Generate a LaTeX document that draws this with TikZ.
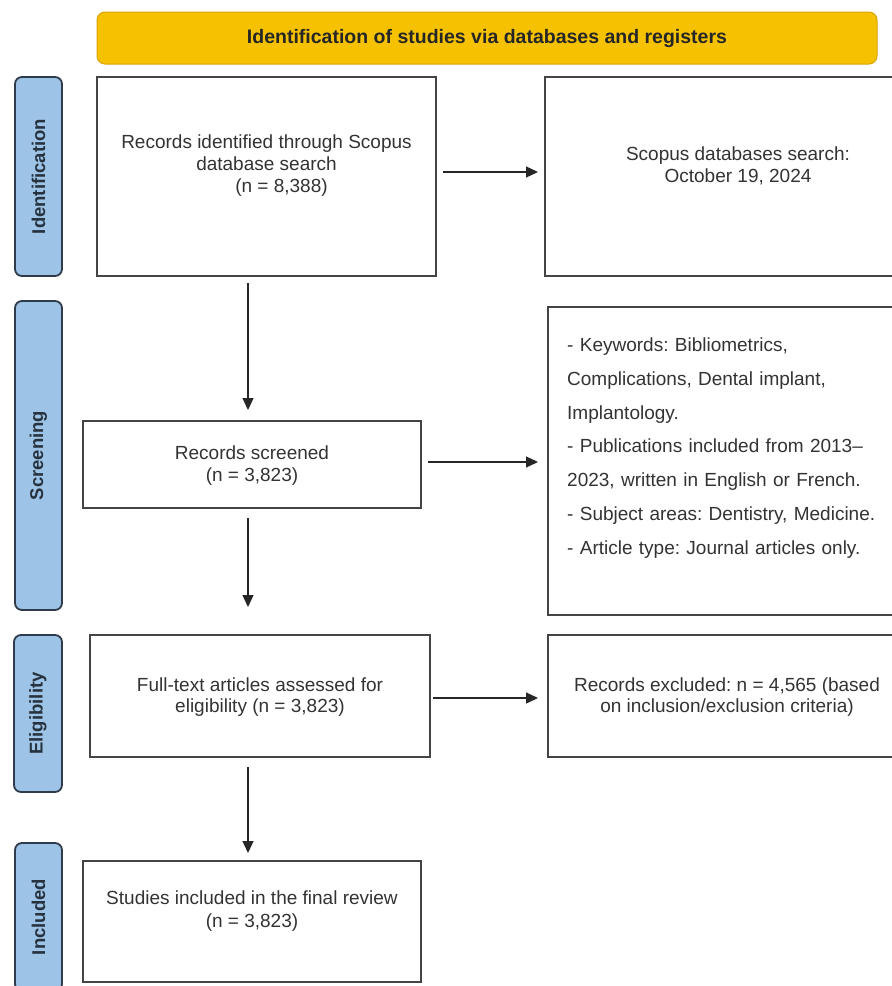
\documentclass[tikz,border=0pt]{standalone}
\usepackage{fontspec}
\setmainfont{Liberation Sans}
\usetikzlibrary{arrows.meta}
\definecolor{hdr}{HTML}{F6C200}
\definecolor{hdrb}{HTML}{D9A400}
\definecolor{lbl}{HTML}{9DC3E6}
\definecolor{lblb}{HTML}{2E3B4A}
\definecolor{txt}{HTML}{333333}
\definecolor{bord}{HTML}{444444}
\frenchspacing
\begin{document}
\frenchspacing
\begin{tikzpicture}[x=1pt,y=-1pt,
 box/.style={draw=bord, line width=2pt, fill=white, inner sep=0pt, outer sep=0pt},
 lab/.style={draw=lblb, line width=1.8pt, fill=lbl, rounded corners=7pt, inner sep=0pt, outer sep=0pt},
 ltxt/.style={rotate=90, font=\fontsize{18.5}{20}\selectfont\bfseries, text=lblb!85!black, inner sep=0pt},
 btxt/.style={font=\fontsize{19}{22}\selectfont, text=txt, align=center, inner sep=0pt},
 arr/.style={draw=black!85, line width=1.3pt, -{Triangle[length=12pt,width=11pt]}}
]
\clip (0,0) rectangle (892,986);
\useasboundingbox (0,0) rectangle (892,986);
\fill[white] (0,0) rectangle (892,986);

% header
\node[draw=hdrb, fill=hdr, rounded corners=8pt, line width=1pt, minimum width=780pt, minimum height=52pt, inner sep=0pt,
      font=\fontsize{19.5}{21}\selectfont\bfseries, text=black!85] (hdr) at (487,38) {Identification of studies via databases and registers};

% side labels
\node[lab, minimum width=47pt, minimum height=199pt] (l1) at (38.5,176.5) {};
\node[ltxt] (l1t) at (l1.center) {Identification};
\node[lab, minimum width=47pt, minimum height=309pt] (l2) at (38.5,455.5) {};
\node[ltxt] (l2t) at (l2.center) {Screening};
\node[lab, minimum width=48pt, minimum height=157pt] (l3) at (38,713.5) {};
\node[ltxt] (l3t) at (l3.center) {Eligibility};
\node[lab, minimum width=47pt, minimum height=148pt] (l4) at (38.5,917) {};
\node[ltxt] (l4t) at (l4.center) {Included};

% boxes
\node[box, minimum width=339pt, minimum height=199pt] (b1) at (266.5,176.5) {};
\node[btxt] (b1t) at (266.5,166) {Records identified through Scopus\\database search\\\hspace*{30pt}(n = 8,388)};

\node[box, minimum width=350pt, minimum height=199pt, anchor=west] (b2) at (545,176.5) {};
\node[btxt] (b2t) at (738,166) {Scopus databases search:\\October 19, 2024};

\node[box, minimum width=338pt, minimum height=87pt] (scr) at (252,464.5) {};
\node[btxt] (scrt) at (252,466) {Records screened\\(n = 3,823)};

\node[box, minimum width=350pt, minimum height=308pt, anchor=west] (kw) at (548,461) {};
\node[font=\fontsize{19}{33.7}\selectfont, text=txt, align=left, text width=322pt, inner sep=0pt, anchor=west] (kwt) at (567,448)
 {- Keywords: Bibliometrics,\\Complications, Dental implant,\\Implantology.\\- Publications included from 2013--\\2023, written in English or French.\\- Subject areas: Dentistry, Medicine.\\- Article type: Journal articles only.};

\node[box, minimum width=340pt, minimum height=122pt] (ft) at (260,696) {};
\node[btxt, font=\fontsize{19}{21}\selectfont] (ftt) at (260,697.5) {Full-text articles assessed for\\eligibility (n = 3,823)};

\node[box, minimum width=350pt, minimum height=122pt, anchor=west] (ex) at (548,696) {};
\node[btxt, font=\fontsize{19}{21}\selectfont] (ext) at (727,697.5) {Records excluded: n = 4,565 (based\\on inclusion/exclusion criteria)};

\node[box, minimum width=338pt, minimum height=121pt] (st) at (252,921.5) {};
\node[btxt, font=\fontsize{19}{23}\selectfont] (stt) at (252,911.5) {Studies included in the final review\\(n = 3,823)};

% connectors
\coordinate (col) at (248,0);
\draw[arr, shorten <=7pt, shorten >=7pt] ([yshift=4.5pt]b1.east) -- ([yshift=4.5pt]b1.east -| b2.west);
\draw[arr, shorten <=7pt, shorten >=10pt] ([yshift=2.5pt]scr.east) -- ([yshift=2.5pt]scr.east -| kw.west);
\draw[arr, shorten <=3pt, shorten >=10pt] ([yshift=-2pt]ft.east) -- ([yshift=-2pt]ft.east -| ex.west);
\draw[arr, shorten <=7pt, shorten >=11pt] (b1.south -| col) -- (scr.north -| col);
\draw[arr, shorten <=10pt, shorten >=28pt] (scr.south -| col) -- (ft.north -| col);
\draw[arr, shorten <=10pt, shorten >=8pt] (ft.south -| col) -- (st.north -| col);
\end{tikzpicture}
\end{document}
